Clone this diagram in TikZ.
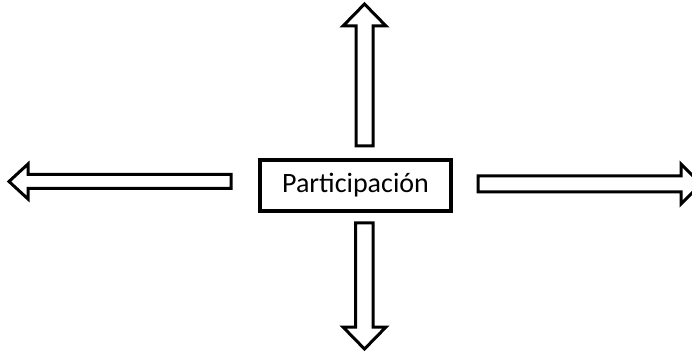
\documentclass[tikz,border=0pt]{standalone}
\usepackage{fontspec}
\setmainfont{Carlito}
\begin{document}
\begin{tikzpicture}[x=1pt,y=-1pt,
  hollow/.style={draw=black,line width=3pt,fill=white,line join=miter,miter limit=10},
  boxstyle/.style={draw=black,line width=4pt,fill=white,inner sep=0pt,minimum width=191pt,minimum height=51pt,font=\fontsize{28}{31}\selectfont}]
\clip (0,0) rectangle (692,352);
\fill[white] (0,0) rectangle (692,352);
% centre box
\node[boxstyle] (p) at (355.5,185.5) {Participación};
% up arrow
\draw[hollow] (356,146) -- (356,26) -- (343,26) -- (364.5,4) -- (386,26) -- (373,26) -- (373,146) -- cycle;
% down arrow
\draw[hollow] (355.5,223) -- (355.5,327) -- (343,327) -- (364.5,349) -- (386,327) -- (373,327) -- (373,223) -- cycle;
% left arrow
\draw[hollow] (231,174.5) -- (28,174.5) -- (28,164) -- (9,181.5) -- (28,199) -- (28,188.5) -- (231,188.5) -- cycle;
% right arrow
\draw[hollow] (478,176) -- (681,176) -- (681,164) -- (701,184) -- (681,204) -- (681,192) -- (478,192) -- cycle;
\end{tikzpicture}
\end{document}
